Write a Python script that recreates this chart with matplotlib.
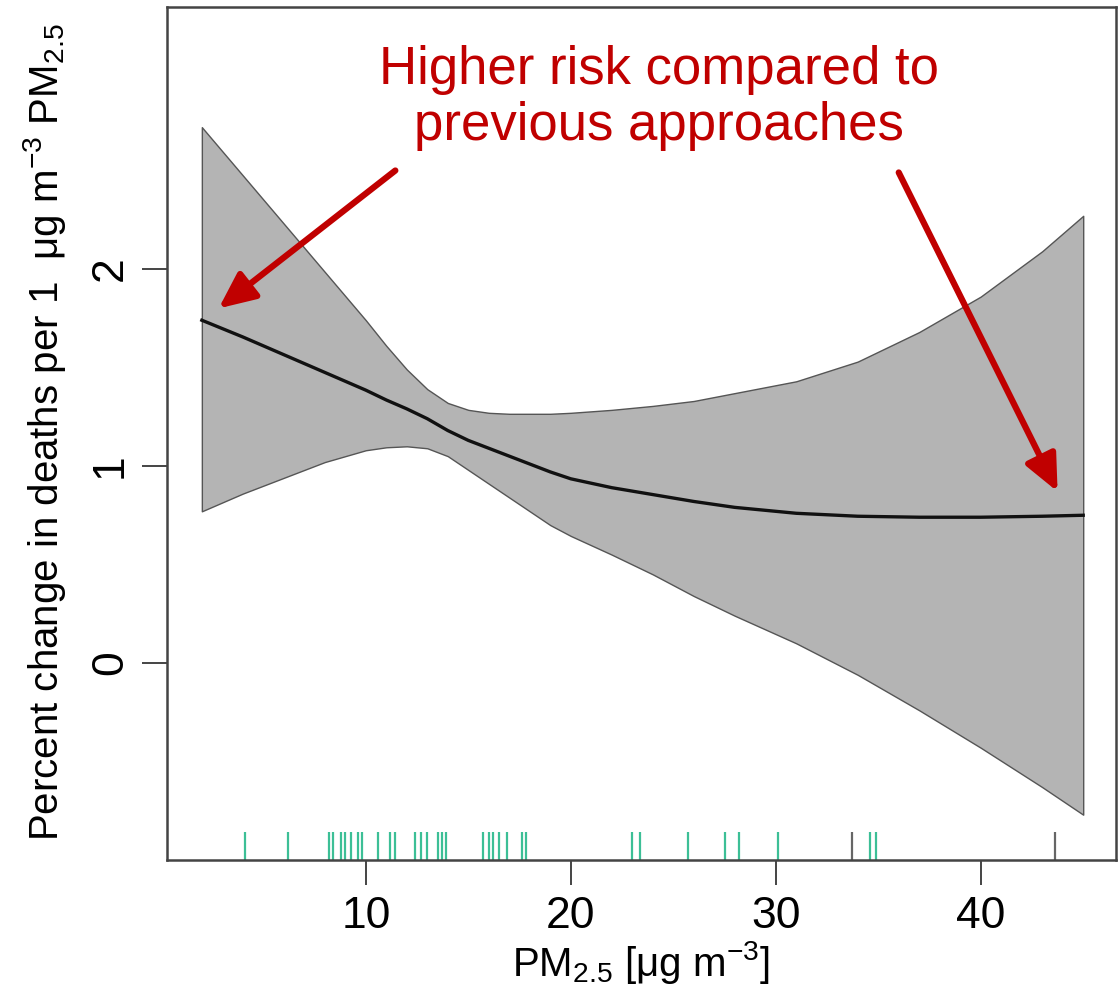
import numpy as np
import matplotlib
matplotlib.use("Agg")
import matplotlib.pyplot as plt

plt.rcParams['font.family'] = ['Liberation Sans', 'DejaVu Sans']
plt.rcParams['mathtext.fontset'] = 'custom'
plt.rcParams['mathtext.rm'] = 'Liberation Sans'
plt.rcParams['mathtext.it'] = 'Liberation Sans:italic'
plt.rcParams['mathtext.bf'] = 'Liberation Sans:bold'

# smooth fit and confidence band
pm = [2, 4, 6, 8, 10, 11, 12, 13, 14, 15, 16, 17, 18, 19, 20, 22, 24, 26, 28, 31, 34, 37, 40, 43, 45]
fit = [1.74, 1.655, 1.565, 1.475, 1.385, 1.335, 1.29, 1.24, 1.18, 1.13, 1.09, 1.05, 1.01, 0.97,
       0.935, 0.89, 0.855, 0.82, 0.79, 0.76, 0.745, 0.74, 0.74, 0.745, 0.75]
upper = [2.72, 2.475, 2.23, 1.985, 1.74, 1.61, 1.49, 1.39, 1.32, 1.285, 1.27, 1.265, 1.265, 1.265,
         1.27, 1.285, 1.305, 1.33, 1.37, 1.43, 1.53, 1.68, 1.86, 2.09, 2.27]
lower = [0.77, 0.86, 0.94, 1.02, 1.08, 1.095, 1.10, 1.09, 1.05, 0.98, 0.91, 0.84, 0.77, 0.70,
         0.645, 0.55, 0.45, 0.34, 0.24, 0.10, -0.06, -0.24, -0.43, -0.63, -0.77]

# rug of observed concentrations
rug_teal = [4.1, 6.2, 8.2, 8.4, 8.8, 9.0, 9.3, 9.6, 9.8, 10.6, 11.2, 11.4, 12.4, 12.7, 13.0,
            13.5, 13.7, 13.9, 15.7, 16.0, 16.2, 16.5, 16.9, 17.6, 17.8, 23.0, 23.4, 25.7,
            27.5, 28.2, 30.1, 34.6, 34.9]
rug_gray = [33.7, 43.6]

xticks = [10, 20, 30, 40]
yticks = [0, 1, 2]

red = '#c00000'

fig = plt.figure(figsize=(11.19, 9.91), dpi=100)
ax = fig.add_axes([167/1119, 1 - 860/991, 949/1119, 853/991])

ax.fill_between(pm, lower, upper, facecolor='#b4b4b4', edgecolor='#555555', linewidth=1.0)
ax.plot(pm, fit, color='#111111', linewidth=2.4)

ymin, ymax = -1.0, 3.33
ax.vlines(rug_teal, ymin, ymin + 0.14, color='#3cbf96', linewidth=1.6)
ax.vlines(rug_gray, ymin, ymin + 0.14, color='#666666', linewidth=1.6)

ax.set_xlim(0.3, 46.6)
ax.set_ylim(ymin, ymax)

for s in ax.spines.values():
    s.set_color('#444444')
    s.set_linewidth(1.8)

ax.set_xticks(xticks)
ax.set_yticks(yticks)
ax.set_yticklabels([str(v) for v in yticks], rotation=90, va='center')
ax.tick_params(axis='both', length=18, width=1.4, color='#444444', labelsize=32, pad=8)

fig.text(641/1119, 1 - 962/991, 'PM$_{2.5}$ [μg m$^{-3}$]', ha='center', va='center',
         fontsize=29)
fig.text(45/1119, 1 - 432/991, 'Percent change in deaths per 1  μg m$^{-3}$ PM$_{2.5}$',
         rotation=90, ha='center', va='center', fontsize=29)

ax.text(24.3, 2.87, 'Higher risk compared to\nprevious approaches', color=red, fontsize=38,
        ha='center', va='center', linespacing=1.15)

arrow = dict(arrowstyle='-|>,head_length=2.2,head_width=1.0', color=red, lw=4.5,
             mutation_scale=10, shrinkA=0, shrinkB=0)
ax.annotate('', xy=(2.82, 1.80), xytext=(11.44, 2.50), arrowprops=arrow)
ax.annotate('', xy=(43.75, 0.87), xytext=(36.0, 2.49), arrowprops=arrow)

fig.savefig('out.png', dpi=100)
